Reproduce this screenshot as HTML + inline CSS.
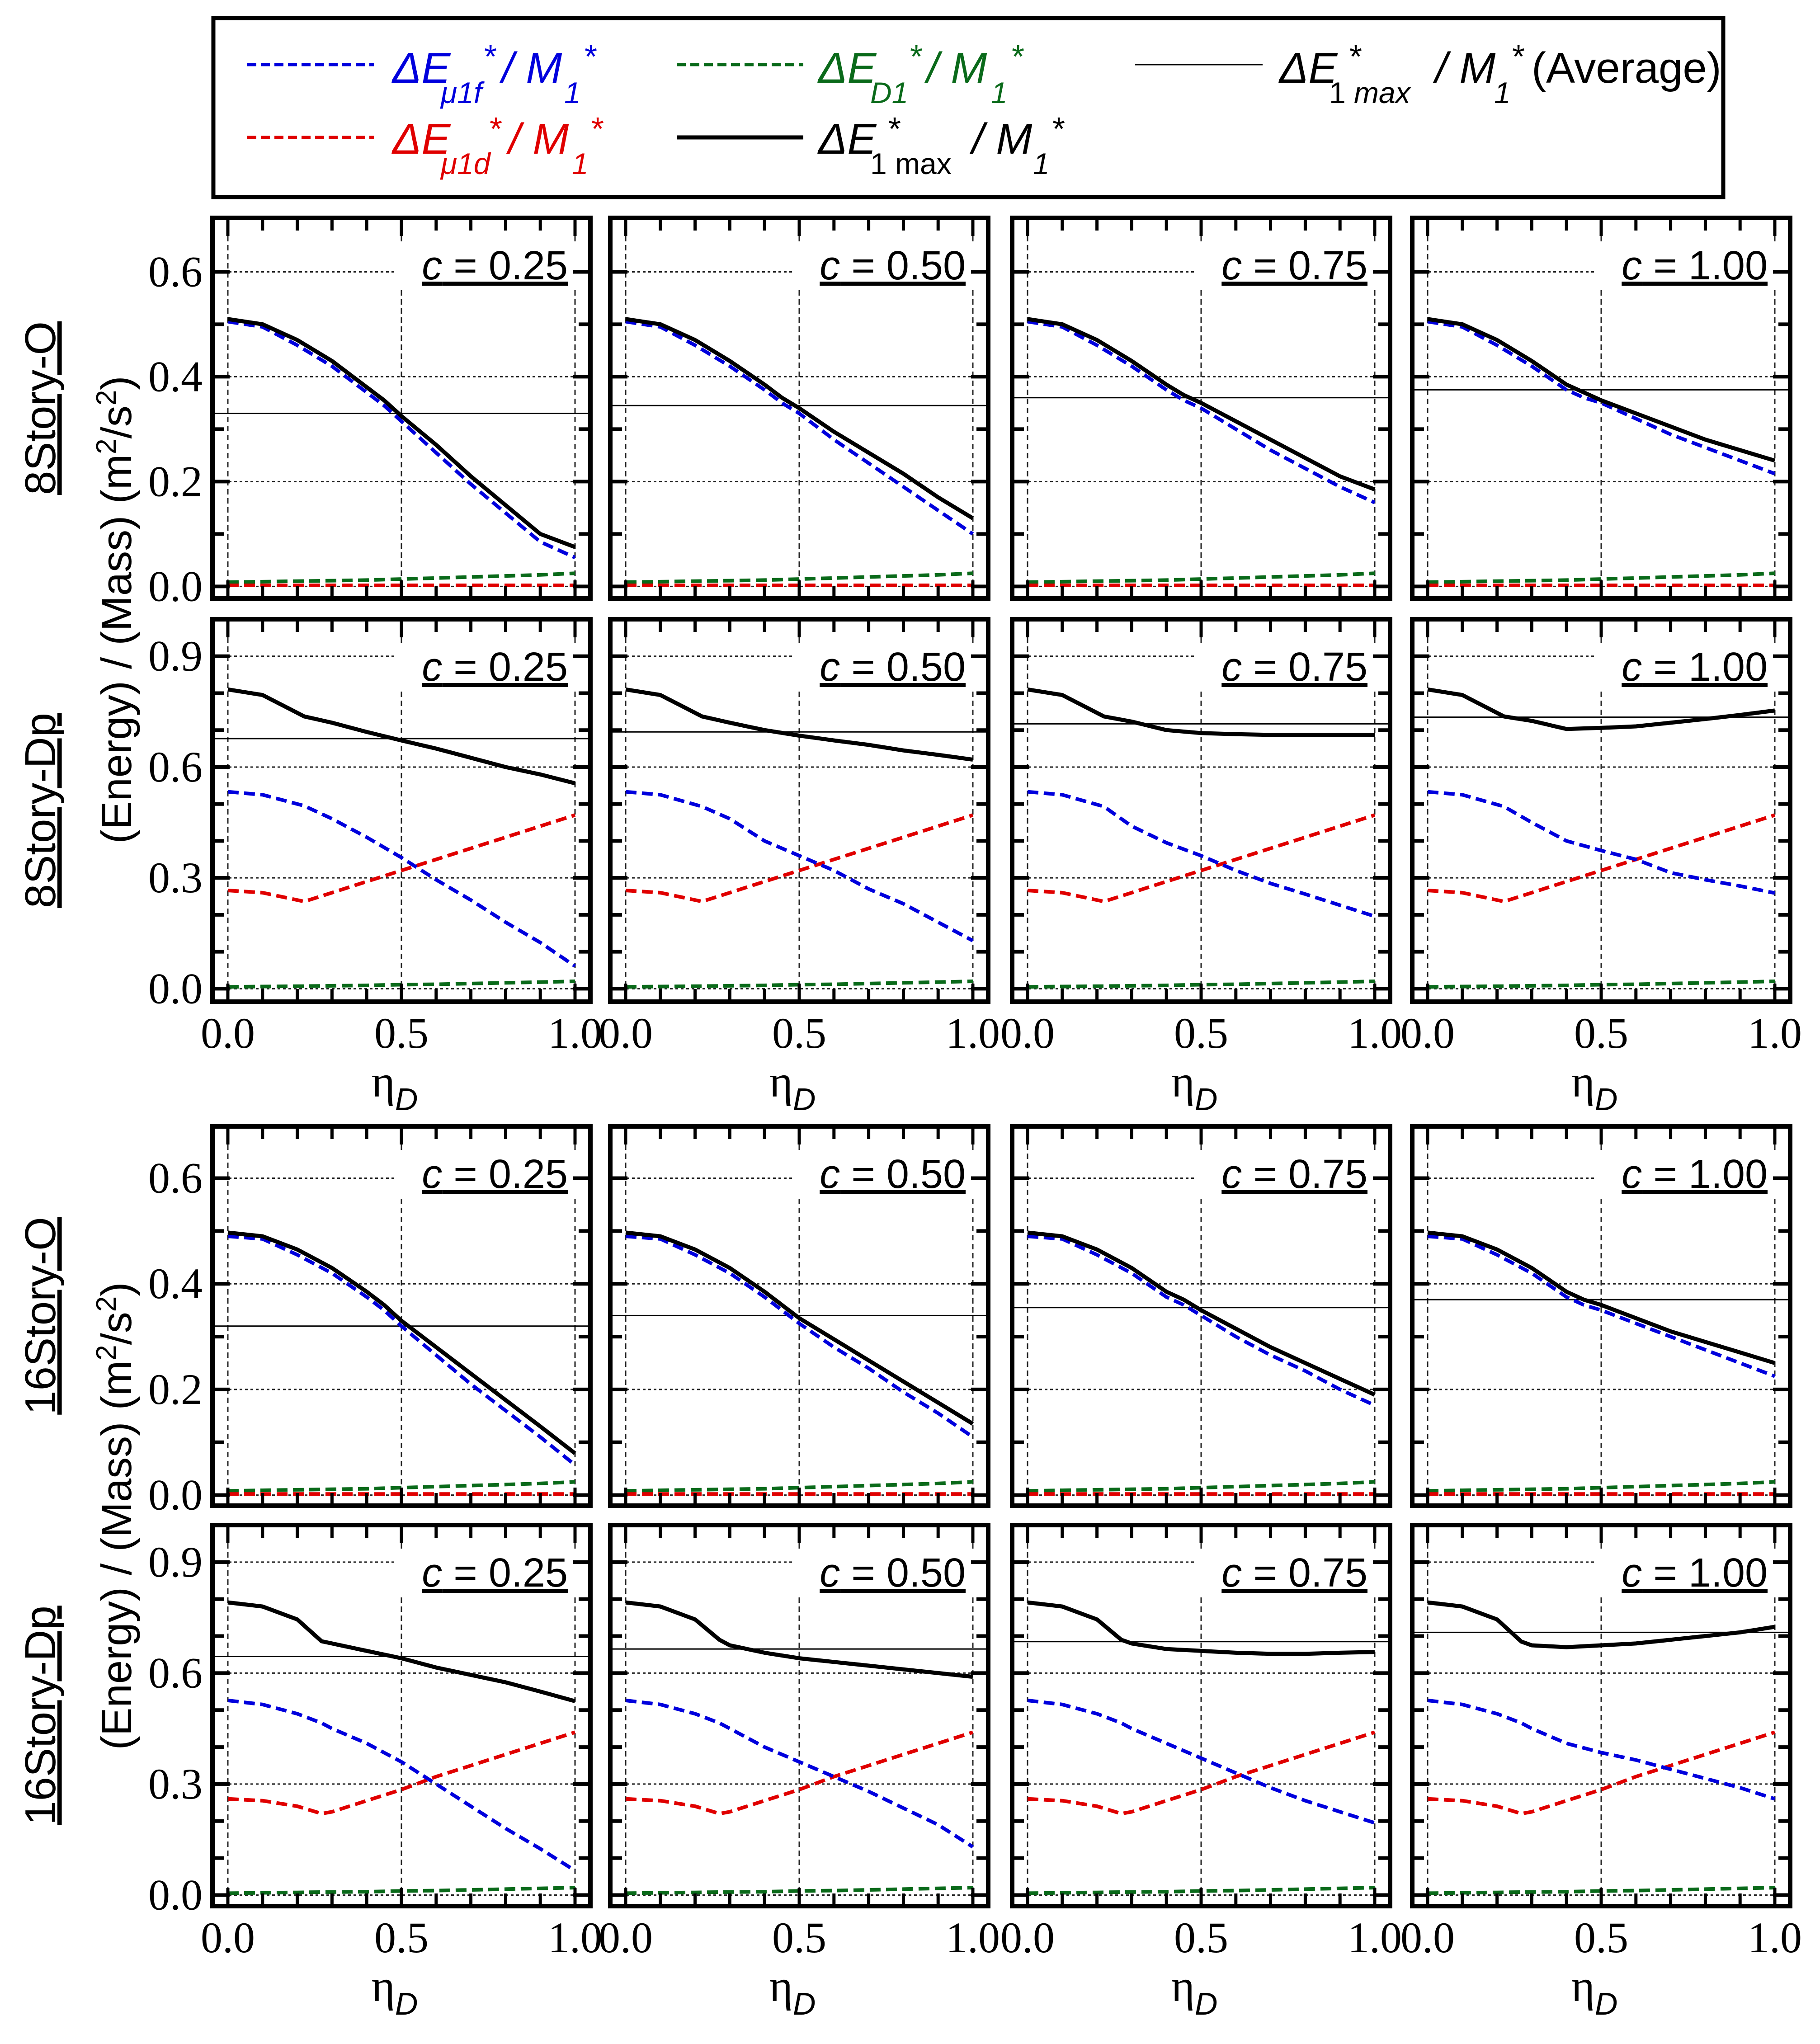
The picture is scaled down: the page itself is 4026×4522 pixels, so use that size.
<!DOCTYPE html>
<html><head><meta charset="utf-8"><style>
html,body{margin:0;padding:0;background:#fff;}
svg{display:block;}
</style></head><body>
<svg id="fig" xmlns="http://www.w3.org/2000/svg" width="4026" height="4522" viewBox="0 0 4026 4522">
<rect x="0" y="0" width="4026" height="4522" fill="#fff"/>
<g font-family="'Liberation Sans Narrow','Liberation Sans',sans-serif">
<rect x="472" y="40" width="3340" height="396" fill="#fff" stroke="#000" stroke-width="9"/>
<g fill="#0000dd">
<line x1="547" y1="143" x2="827" y2="143" stroke="#0000dd" stroke-width="7" stroke-dasharray="20 10"/>
<text x="868" y="183" font-size="96" font-style="italic">ΔE</text>
<text x="975" y="228" font-size="66" font-style="italic">μ1f</text>
<text x="1068" y="150" font-size="72" font-style="italic">*</text>
<text x="1110" y="183" font-size="96" font-style="italic">/ M</text>
<text x="1248" y="228" font-size="66" font-style="italic">1</text>
<text x="1290" y="150" font-size="72" font-style="italic">*</text>
</g>
<g fill="#e00000">
<line x1="547" y1="304" x2="827" y2="304" stroke="#e00000" stroke-width="7" stroke-dasharray="20 10"/>
<text x="868" y="340" font-size="96" font-style="italic">ΔE</text>
<text x="975" y="385" font-size="66" font-style="italic">μ1d</text>
<text x="1080" y="310" font-size="72" font-style="italic">*</text>
<text x="1125" y="340" font-size="96" font-style="italic">/ M</text>
<text x="1265" y="385" font-size="66" font-style="italic">1</text>
<text x="1305" y="310" font-size="72" font-style="italic">*</text>
</g>
<g fill="#0a6a1a">
<line x1="1497" y1="143" x2="1777" y2="143" stroke="#0a6a1a" stroke-width="7" stroke-dasharray="20 10"/>
<text x="1810" y="183" font-size="96" font-style="italic">ΔE</text>
<text x="1925" y="228" font-size="66" font-style="italic">D1</text>
<text x="2010" y="150" font-size="72" font-style="italic">*</text>
<text x="2050" y="183" font-size="96" font-style="italic">/ M</text>
<text x="2192" y="228" font-size="66" font-style="italic">1</text>
<text x="2235" y="150" font-size="72" font-style="italic">*</text>
</g>
<g fill="#000">
<line x1="1497" y1="304" x2="1777" y2="304" stroke="#000" stroke-width="9"/>
<text x="1810" y="340" font-size="96" font-style="italic">ΔE</text>
<text x="1925" y="385" font-size="66">1 max</text>
<text x="1965" y="310" font-size="72">*</text>
<text x="2150" y="340" font-size="96" font-style="italic">/ M</text>
<text x="2285" y="385" font-size="66" font-style="italic">1</text>
<text x="2325" y="310" font-size="72" font-style="italic">*</text>
</g>
<g fill="#000">
<line x1="2511" y1="143" x2="2793" y2="143" stroke="#000" stroke-width="3"/>
<text x="2830" y="183" font-size="96" font-style="italic">ΔE</text>
<text x="2940" y="228" font-size="66">1 <tspan font-style="italic">max</tspan></text>
<text x="2985" y="150" font-size="72">*</text>
<text x="3175" y="183" font-size="96" font-style="italic">/ M</text>
<text x="3305" y="228" font-size="66" font-style="italic">1</text>
<text x="3345" y="150" font-size="72">*</text>
<text x="3388" y="183" font-size="96">(Average)</text>
</g>
</g>
<g id="axes-labels">
<text transform="translate(290,1349) rotate(-90)" text-anchor="middle" font-family="'Liberation Sans',sans-serif" font-size="94">(Energy) / (Mass) (m<tspan dy="-34" font-size="62">2</tspan><tspan dy="34">/s</tspan><tspan dy="-34" font-size="62">2</tspan><tspan dy="34">)</tspan></text>
<text transform="translate(290,3354) rotate(-90)" text-anchor="middle" font-family="'Liberation Sans',sans-serif" font-size="94">(Energy) / (Mass) (m<tspan dy="-34" font-size="62">2</tspan><tspan dy="34">/s</tspan><tspan dy="-34" font-size="62">2</tspan><tspan dy="34">)</tspan></text>
<text transform="translate(122,903) rotate(-90)" text-anchor="middle" font-family="'Liberation Sans Narrow','Liberation Sans',sans-serif" font-size="96" text-decoration="underline">8Story-O</text>
<text transform="translate(122,1793) rotate(-90)" text-anchor="middle" font-family="'Liberation Sans Narrow','Liberation Sans',sans-serif" font-size="96" text-decoration="underline">8Story-Dp</text>
<text transform="translate(122,2911) rotate(-90)" text-anchor="middle" font-family="'Liberation Sans Narrow','Liberation Sans',sans-serif" font-size="96" text-decoration="underline">16Story-O</text>
<text transform="translate(122,3795) rotate(-90)" text-anchor="middle" font-family="'Liberation Sans Narrow','Liberation Sans',sans-serif" font-size="96" text-decoration="underline">16Story-Dp</text>
</g>
<g id="panels"></g>
</svg>
<script>
const cLabels = ["0.25", "0.50", "0.75", "1.00"];
const xTickLabels = ["0.0", "0.5", "1.0"];
const xTickValues = [0, 0.5, 1];
const yTicksO = [0.0, 0.2, 0.4, 0.6];
const yTickLabelsO = ["0.0", "0.2", "0.4", "0.6"];
const yTicksDp = [0.0, 0.3, 0.6, 0.9];
const yTickLabelsDp = ["0.0", "0.3", "0.6", "0.9"];

const xs8O = [0, .1, .2, .3, .4, .45, .5, .6, .7, .8, .9, 1];
const black8O = [
 [.51,.50,.47,.43,.38,.355,.325,.27,.21,.155,.10,.075],
 [.51,.50,.47,.43,.385,.36,.34,.295,.255,.215,.17,.13],
 [.51,.50,.47,.43,.385,.365,.35,.315,.28,.245,.21,.185],
 [.51,.50,.47,.43,.385,.37,.355,.33,.305,.28,.26,.24]];
const blue8O = [
 [.505,.495,.46,.42,.37,.345,.315,.255,.195,.14,.085,.055],
 [.505,.495,.46,.42,.375,.35,.33,.28,.235,.19,.145,.10],
 [.505,.495,.46,.42,.375,.355,.34,.30,.26,.225,.19,.16],
 [.505,.495,.46,.42,.375,.36,.35,.32,.29,.265,.24,.215]];
const red8O = [.002,.002,.002,.002,.002,.002,.002,.002,.002,.002,.002,.002];
const green8O = [.008,.009,.010,.011,.012,.013,.014,.016,.018,.020,.022,.025];
const avg8O = [.33, .345, .36, .375];

const xs8D = [0, .1, .22, .3, .4, .5, .6, .7, .8, .9, 1];
const black8D = [
 [.81,.795,.737,.72,.695,.672,.65,.625,.60,.58,.556],
 [.81,.795,.737,.72,.70,.685,.672,.66,.645,.633,.62],
 [.81,.795,.737,.723,.70,.692,.689,.687,.687,.687,.687],
 [.81,.795,.737,.725,.703,.706,.71,.72,.73,.741,.753]];
const blue8D = [
 [.533,.525,.495,.46,.41,.355,.295,.24,.18,.125,.061],
 [.533,.525,.493,.46,.40,.36,.32,.27,.23,.18,.13],
 [.533,.525,.493,.44,.395,.36,.32,.285,.256,.226,.196],
 [.533,.525,.493,.45,.40,.374,.35,.314,.295,.278,.259]];
const red8D = [.266,.26,.236,.26,.29,.32,.35,.38,.41,.44,.47];
const green8D = [.005,.006,.007,.008,.009,.011,.012,.014,.016,.018,.02];
const avg8D = [.677, .695, .717, .735];

const xs16O = [0, .1, .2, .3, .4, .45, .5, .6, .7, .8, .9, 1];
const black16O = [
 [.497,.49,.465,.43,.385,.36,.33,.28,.23,.18,.13,.079],
 [.497,.49,.465,.43,.385,.36,.335,.295,.255,.215,.175,.135],
 [.497,.49,.465,.43,.385,.37,.35,.315,.28,.25,.22,.19],
 [.497,.49,.465,.43,.385,.37,.36,.335,.31,.29,.27,.25]];
const blue16O = [
 [.49,.485,.455,.42,.375,.35,.32,.265,.21,.16,.11,.057],
 [.49,.485,.455,.42,.375,.35,.325,.28,.24,.195,.155,.11],
 [.49,.485,.455,.42,.375,.36,.34,.30,.265,.235,.20,.17],
 [.49,.485,.455,.42,.375,.36,.35,.325,.30,.275,.25,.225]];
const red16O = [.002,.002,.002,.002,.002,.002,.002,.002,.002,.002,.002,.002];
const green16O = [.008,.009,.010,.011,.012,.013,.014,.016,.018,.020,.022,.025];
const avg16O = [.32, .34, .355, .37];

const xs16D = [0, .1, .2, .27, .3, .4, .5, .6, .7, .8, .9, 1];
const black16D = [
 [.791,.78,.745,.686,.68,.66,.64,.615,.595,.575,.55,.524],
 [.791,.78,.745,.69,.675,.655,.64,.63,.62,.61,.60,.59],
 [.791,.78,.745,.69,.68,.665,.66,.655,.652,.652,.655,.657],
 [.791,.78,.745,.685,.675,.67,.675,.68,.69,.70,.71,.725]];
const blue16D = [
 [.526,.515,.49,.465,.45,.41,.36,.30,.24,.18,.125,.066],
 [.526,.515,.49,.465,.45,.40,.36,.32,.28,.235,.19,.13],
 [.526,.515,.49,.465,.45,.41,.37,.33,.29,.255,.225,.195],
 [.526,.515,.49,.465,.45,.41,.385,.365,.34,.315,.29,.26]];
const red16D = [.26,.255,.24,.22,.225,.255,.285,.32,.35,.38,.41,.44];
const green16D = [.005,.006,.007,.008,.008,.009,.011,.012,.014,.016,.018,.02];
const avg16D = [.645, .665, .685, .71];

const NS = "http://www.w3.org/2000/svg";
const colLeft = [470, 1350, 2239, 3124];
const colW = 836;
const rows = [
 {name:"8story-o", top:482, bot:1324, d0:-0.023, d1:0.703, xs:xs8O, black:black8O, blue:blue8O, red:red8O, green:green8O, avg:avg8O, ticks:yTicksO, labels:yTickLabelsO, minor:[0.1,0.3,0.5], xlab:false},
 {name:"8story-dp", top:1370, bot:2216, d0:-0.035, d1:1.0, xs:xs8D, black:black8D, blue:blue8D, red:red8D, green:green8D, avg:avg8D, ticks:yTicksDp, labels:yTickLabelsDp, minor:[0.1,0.2,0.4,0.5,0.7,0.8], xlab:true},
 {name:"16story-o", top:2492, bot:3331, d0:-0.02, d1:0.698, xs:xs16O, black:black16O, blue:blue16O, red:red16O, green:green16O, avg:avg16O, ticks:yTicksO, labels:yTickLabelsO, minor:[0.1,0.3,0.5], xlab:false},
 {name:"16story-dp", top:3374, bot:4217, d0:-0.03, d1:1.0, xs:xs16D, black:black16D, blue:blue16D, red:red16D, green:green16D, avg:avg16D, ticks:yTicksDp, labels:yTickLabelsDp, minor:[0.1,0.2,0.4,0.5,0.7,0.8], xlab:true}
];
const root = document.getElementById("panels");
function mk(tag, attrs, parent) {
  const e = document.createElementNS(NS, tag);
  for (const k in attrs) e.setAttribute(k, attrs[k]);
  parent.appendChild(e);
  return e;
}
rows.forEach((r, ri) => {
  colLeft.forEach((L, ci) => {
    const R = L + colW, T = r.top, B = r.bot;
    const xS = v => L + 34 + v * (colW - 68);
    const yS = v => B - (v - r.d0) / (r.d1 - r.d0) * (B - T);
    const g = mk("g", {}, root);
    
    
    r.ticks.forEach(t => {
      const gl = mk("line", {x1:L, x2:R, y1:yS(t), y2:yS(t), stroke:"#222", "stroke-width":3, "stroke-dasharray":"6 6"}, g);
      
      
    });
    xTickValues.forEach(t => {
      const gl = mk("line", {x1:xS(t), x2:xS(t), y1:T, y2:B, stroke:"#222", "stroke-width":3, "stroke-dasharray":"12 8"}, g);
      
      
    });
    const lbBg = mk("rect", {x:R - 430, y:T + 60, width:400, height:100, fill:"#fff"}, g);
    
    
    const lb = mk("text", {x:R - 50, y:T + 136, "text-anchor":"end", "font-family":"'Liberation Sans Narrow','Liberation Sans',sans-serif", "font-size":90, "text-decoration":"underline"}, g);
    
    
    const it = mk("tspan", {"font-style":"italic"}, lb); it.textContent = "c";
    const rest = mk("tspan", {}, lb); rest.textContent = " = " + cLabels[ci];
    const av = mk("line", {x1:L, x2:R, y1:yS(r.avg[ci]), y2:yS(r.avg[ci]), stroke:"#000", "stroke-width":3}, g);
    
    
    const series = [
      {n:"green-d1-series", v:r.green, c:"#0a6a1a", dash:"24 12", w:8},
      {n:"red-mu1d-series", v:r.red, c:"#e00000", dash:"24 12", w:8},
      {n:"blue-mu1f-series", v:r.blue[ci], c:"#0000dd", dash:"24 12", w:8},
      {n:"black-max-series", v:r.black[ci], c:"#000", dash:"none", w:9}
    ];
    series.forEach(s => {
      const pts = r.xs.map((x, i) => xS(x).toFixed(1) + "," + yS(s.v[i]).toFixed(1)).join(" ");
      const pl = mk("polyline", {points:pts, fill:"none", stroke:s.c, "stroke-width":s.w, "stroke-dasharray":s.dash, "stroke-linejoin":"round"}, g);
      
      
    });
    for (let k = 0; k <= 10; k++) {
      const v = k / 10, major = (k % 5 === 0), len = major ? 40 : 28;
      const t1 = mk("line", {x1:xS(v), x2:xS(v), y1:B, y2:B - len, stroke:"#000", "stroke-width":7}, g);
      
      
      const t2 = mk("line", {x1:xS(v), x2:xS(v), y1:T, y2:T + len, stroke:"#000", "stroke-width":7}, g);
      
      
    }
    r.ticks.concat(r.minor).forEach((v, i) => {
      const len = i < r.ticks.length ? 38 : 26;
      const a = mk("line", {x1:L, x2:L + len, y1:yS(v), y2:yS(v), stroke:"#000", "stroke-width":8}, g);
      
      
      const b = mk("line", {x1:R, x2:R - len, y1:yS(v), y2:yS(v), stroke:"#000", "stroke-width":8}, g);
      
      
    });
    const fr = mk("rect", {x:L, y:T, width:colW, height:B - T, fill:"none", stroke:"#000", "stroke-width":10}, g);
    
    
    if (ci === 0) {
      r.ticks.forEach((v, i) => {
        const tl = mk("text", {x:L - 22, y:yS(v) + 32, "text-anchor":"end", "font-family":"'Liberation Serif',serif", "font-size":96}, g);
        
        
        tl.textContent = r.labels[i];
      });
    }
    if (r.xlab) {
      xTickValues.forEach((v, i) => {
        const tl = mk("text", {x:xS(v), y:B + 102, "text-anchor":"middle", "font-family":"'Liberation Serif',serif", "font-size":96}, g);
        
        
        tl.textContent = xTickLabels[i];
      });
      const xt = mk("text", {x:xS(0.5) - 15, y:B + 210, "text-anchor":"middle", "font-family":"'Liberation Serif',serif", "font-size":100}, g);
      
      
      const e1 = mk("tspan", {}, xt); e1.textContent = "η";
      const e2 = mk("tspan", {dy:30, "font-family":"'Liberation Sans',sans-serif", "font-style":"italic", "font-size":70}, xt); e2.textContent = "D";
    }
  });
});
</script>
</body></html>
